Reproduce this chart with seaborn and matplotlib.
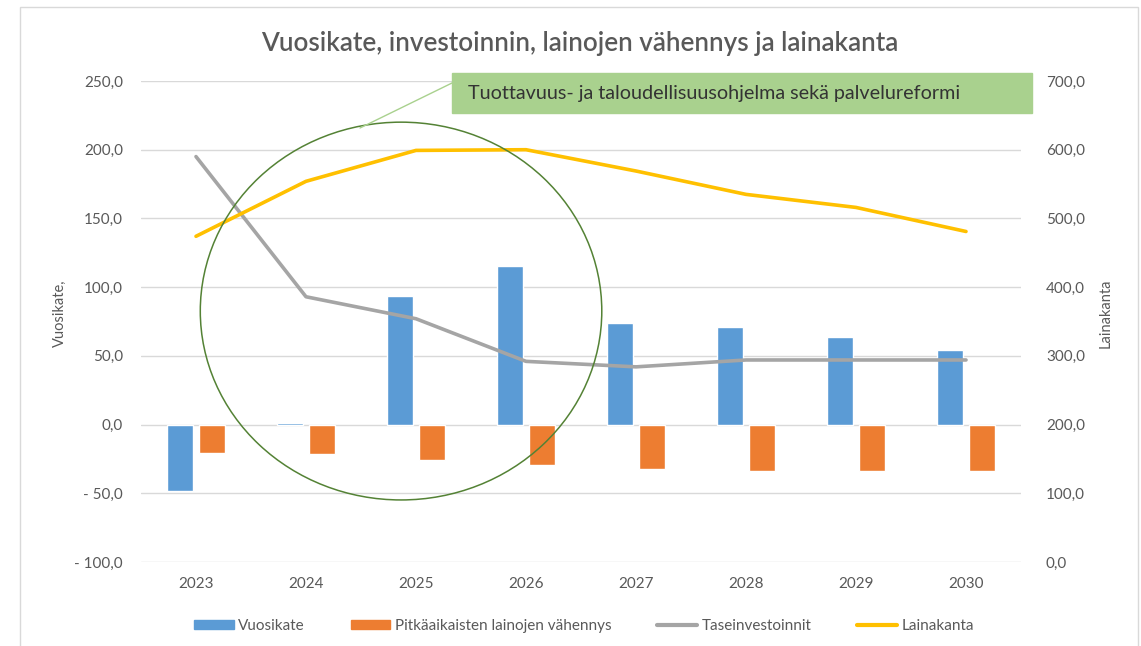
import pandas as pd
import matplotlib.pyplot as plt
import seaborn as sns
from matplotlib.patches import Ellipse, Rectangle, Patch
from matplotlib.lines import Line2D
from matplotlib.ticker import FuncFormatter, MultipleLocator

years = ["2023", "2024", "2025", "2026", "2027", "2028", "2029", "2030"]
vuosikate = [-48.0, 1.2, 93.5, 115.7, 73.6, 70.7, 63.4, 54.0]
lainojen_vahennys = [-20.7, -21.2, -25.6, -29.2, -32.4, -33.6, -33.6, -33.6]
taseinvestoinnit = [195.0, 93.0, 77.0, 46.0, 42.0, 47.0, 47.0, 47.0]
lainakanta = [474.0, 554.0, 599.0, 600.0, 569.0, 535.0, 516.0, 481.0]

BLUE = "#5B9BD5"
ORANGE = "#ED7D31"
GRAY = "#A5A5A5"
YELLOW = "#FFC000"
TEXT = "#595959"
GRID = "#D9D9D9"

sns.set_theme(style="white")
plt.rcParams["font.family"] = ["Lato", "DejaVu Sans"]


def fi_num(v, pos=None):
    s = f"{abs(v):.1f}".replace(".", ",")
    return f"- {s}" if v < 0 else s


bars = pd.DataFrame({
    "Vuosi": years * 2,
    "Arvo": vuosikate + lainojen_vahennys,
    "Sarja": ["Vuosikate"] * len(years) + ["Pitkäaikaisten lainojen vähennys"] * len(years),
})

W, H = 1141, 646
fig = plt.figure(figsize=(W / 100, H / 100), dpi=100)
ax = fig.add_axes([141 / W, 84 / H, 880 / W, 481 / H])

sns.barplot(data=bars, x="Vuosi", y="Arvo", hue="Sarja", palette=[BLUE, ORANGE],
            width=0.58, gap=0.2, saturation=1, legend=False, ax=ax)
sns.lineplot(x=years, y=taseinvestoinnit, color=GRAY, lw=2.6, sort=False, ax=ax,
             solid_capstyle="round", zorder=4)

ax.set_xlim(-0.5, len(years) - 0.5)
ax.set_ylim(-100, 250)
ax.yaxis.set_major_locator(MultipleLocator(50))
ax.yaxis.set_major_formatter(FuncFormatter(fi_num))
ax.grid(axis="y", color=GRID, lw=1)
ax.set_axisbelow(True)
ax.set_xlabel("")
ax.set_ylabel("Vuosikate,", color=TEXT, fontsize=10.5)
ax.yaxis.set_label_coords((67 - 141) / 880, 0.518)
ax.tick_params(axis="y", length=0, pad=13, labelsize=11, labelcolor=TEXT)
ax.tick_params(axis="x", length=0, pad=11, labelsize=11, labelcolor=TEXT)

ax2 = ax.twinx()
sns.lineplot(x=years, y=lainakanta, color=YELLOW, lw=2.6, sort=False, ax=ax2,
             solid_capstyle="round")
ax2.set_ylim(0, 700)
ax2.yaxis.set_major_locator(MultipleLocator(100))
ax2.yaxis.set_major_formatter(FuncFormatter(fi_num))
ax2.grid(False)
ax2.set_ylabel("Lainakanta", color=TEXT, fontsize=10.5)
ax2.yaxis.set_label_coords((1099 - 141) / 880, 0.518)
ax2.tick_params(axis="y", length=0, pad=18, labelsize=11, labelcolor=TEXT)

for a in (ax, ax2):
    for sp in a.spines.values():
        sp.set_visible(False)

# highlight circle around 2023-2026
ax2.add_patch(Ellipse((1.864, 82.6), 3.65, 274.9, transform=ax.transData, fill=False,
                      ec="#548235", lw=1.1, zorder=6, clip_on=False))

# outer chart frame
fig.add_artist(Rectangle((20 / W, -0.1), 1118 / W, 1.1 - 7 / H, transform=fig.transFigure,
                         fill=False, ec=GRID, lw=1))

fig.text(580 / W, 1 - 43 / H, "Vuosikate, investoinnin, lainojen vähennys ja lainakanta",
         ha="center", va="center", fontsize=18.7, fontweight=600, color=TEXT)

# callout box
fig.add_artist(Rectangle((452 / W, 1 - 113 / H), 580 / W, 40 / H, transform=fig.transFigure,
                         fc="#A9D18E", ec="#A9D18E", lw=1))
fig.add_artist(Line2D([452 / W, 360 / W], [1 - 83 / H, 1 - 128 / H], color="#A9D18E", lw=1,
                      transform=fig.transFigure))
fig.text(468 / W, 1 - 94 / H, "Tuottavuus- ja taloudellisuusohjelma sekä palvelureformi",
         ha="left", va="center", fontsize=14.2, color="#333333")

handles = [
    Patch(color=BLUE, label="Vuosikate"),
    Patch(color=ORANGE, label="Pitkäaikaisten lainojen vähennys"),
    Line2D([], [], color=GRAY, lw=3, label="Taseinvestoinnit"),
    Line2D([], [], color=YELLOW, lw=3, label="Lainakanta"),
]
fig.legend(handles=handles, loc="center", bbox_to_anchor=(584 / W, 1 - 626 / H), ncol=4,
           frameon=False, fontsize=11, labelcolor=TEXT, handlelength=2.6, handleheight=0.6,
           handletextpad=0.3, columnspacing=3.0)

fig.savefig("out.png", dpi=100)
